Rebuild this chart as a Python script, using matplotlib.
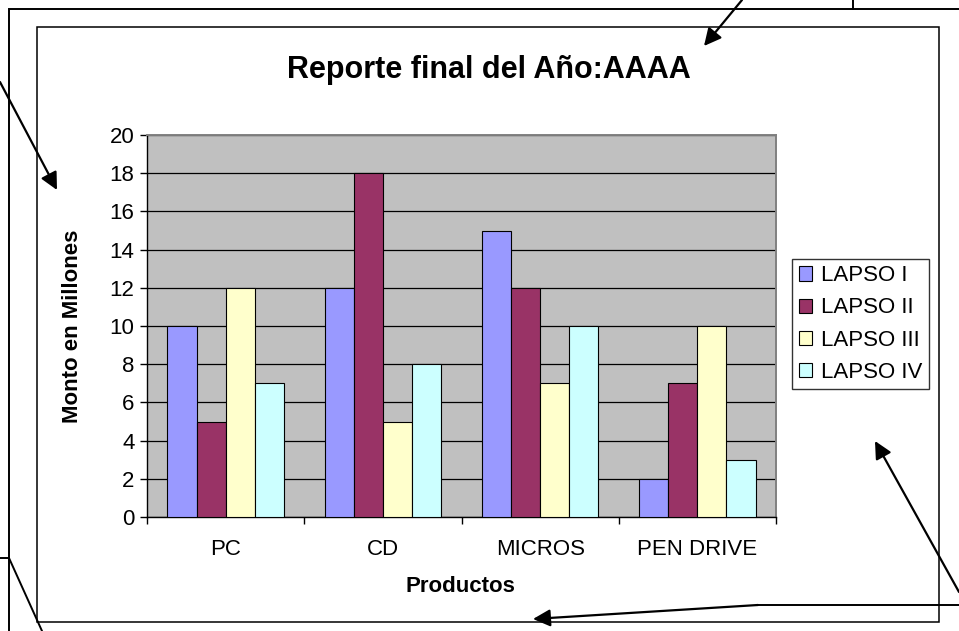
import matplotlib
matplotlib.use("Agg")
import matplotlib.pyplot as plt
import numpy as np
from matplotlib.patches import FancyArrowPatch, Rectangle
from matplotlib.lines import Line2D

plt.rcParams['font.family'] = ['Liberation Sans', 'DejaVu Sans']

# data
productos = ["PC", "CD", "MICROS", "PEN DRIVE"]
lapsos = ["LAPSO I", "LAPSO II", "LAPSO III", "LAPSO IV"]
lapso_1 = [10, 12, 15, 2]
lapso_2 = [5, 18, 12, 7]
lapso_3 = [12, 5, 7, 10]
lapso_4 = [7, 8, 10, 3]
y_ticks = list(range(0, 21, 2))

colores = ["#9999FF", "#993366", "#FFFFCC", "#CCFFFF"]

W, H = 959, 631
fig = plt.figure(figsize=(W / 100, H / 100), dpi=100)


def px(x, y):
    """pixel coords (top-left origin) -> figure fraction"""
    return (x / W, 1 - y / H)


# plot area
left, top, right, bottom = 147, 135, 776, 517
ax = fig.add_axes([left / W, 1 - bottom / H, (right - left) / W, (bottom - top) / H])
ax.set_facecolor("#C0C0C0")

series = [lapso_1, lapso_2, lapso_3, lapso_4]
x = np.arange(len(productos)) + 0.5
bw = 0.185
for i, (vals, name, col) in enumerate(zip(series, lapsos, colores)):
    ax.bar(x + (i - 1.5) * bw, vals, width=bw, color=col, edgecolor="black",
           linewidth=0.8, label=name, zorder=3)

ax.set_xlim(0, len(productos))
ax.set_ylim(0, 20)
ax.set_yticks(y_ticks)
ax.yaxis.grid(True, color="black", linewidth=0.9, zorder=1)
ax.set_axisbelow(True)

ax.set_xticks(np.arange(len(productos) + 1))
ax.set_xticklabels([])
ax.set_xticks(x, minor=True)
ax.set_xticklabels(productos, minor=True)
ax.tick_params(axis="x", which="major", direction="out", length=5, width=1)
ax.tick_params(axis="x", which="minor", length=0, pad=16, labelsize=16)
ax.tick_params(axis="y", direction="out", length=5, width=1, pad=4, labelsize=16)

for s in ["top", "right"]:
    ax.spines[s].set_color("#808080")
    ax.spines[s].set_linewidth(1.4)
for s in ["left", "bottom"]:
    ax.spines[s].set_color("black")
    ax.spines[s].set_linewidth(1)

# titles
fig.text(*px(489, 70), "Reporte final del Año:AAAA", ha="center", va="center",
         fontsize=22, fontweight="bold")
fig.text(*px(460, 587), "Productos", ha="center", va="center",
         fontsize=16, fontweight="bold")
fig.text(*px(72, 326), "Monto en Millones", ha="center", va="center",
         rotation=90, fontsize=16, fontweight="bold")

# legend
leg = fig.legend(loc="center left", bbox_to_anchor=px(792, 324),
                 bbox_transform=fig.transFigure, fontsize=16, frameon=True,
                 fancybox=False, borderaxespad=0, handlelength=0.6,
                 handleheight=0.6, handletextpad=0.4, labelspacing=0.5,
                 borderpad=0.3)
leg.get_frame().set_edgecolor("black")
leg.get_frame().set_linewidth(1)

# chart frame
x0, y0 = px(37, 622)
x1, y1 = px(939, 27)
fig.add_artist(Rectangle((x0, y0), x1 - x0, y1 - y0, transform=fig.transFigure,
                         fill=False, edgecolor="black", linewidth=1.1))

# outer drawing lines
def linea(pts, lw=1.4):
    xs, ys = zip(*[px(a, b) for a, b in pts])
    fig.add_artist(Line2D(xs, ys, transform=fig.transFigure, color="black",
                          linewidth=lw, solid_joinstyle="miter"))


linea([(9, 631), (9, 9), (959, 9)])
linea([(853, 0), (853, 9)])
linea([(0, 558), (9, 558), (42, 631)])
linea([(959, 605), (758, 605)])


def flecha(p0, p1):
    fig.add_artist(FancyArrowPatch(px(*p0), px(*p1), transform=fig.transFigure,
                                   arrowstyle="-|>", mutation_scale=26,
                                   color="black", linewidth=1.6,
                                   shrinkA=0, shrinkB=0))


flecha((0, 82), (57, 190))
flecha((742, 0), (704, 46))
flecha((959, 592), (875, 441))
flecha((758, 605), (533, 619))

fig.savefig("out.png", dpi=100)
